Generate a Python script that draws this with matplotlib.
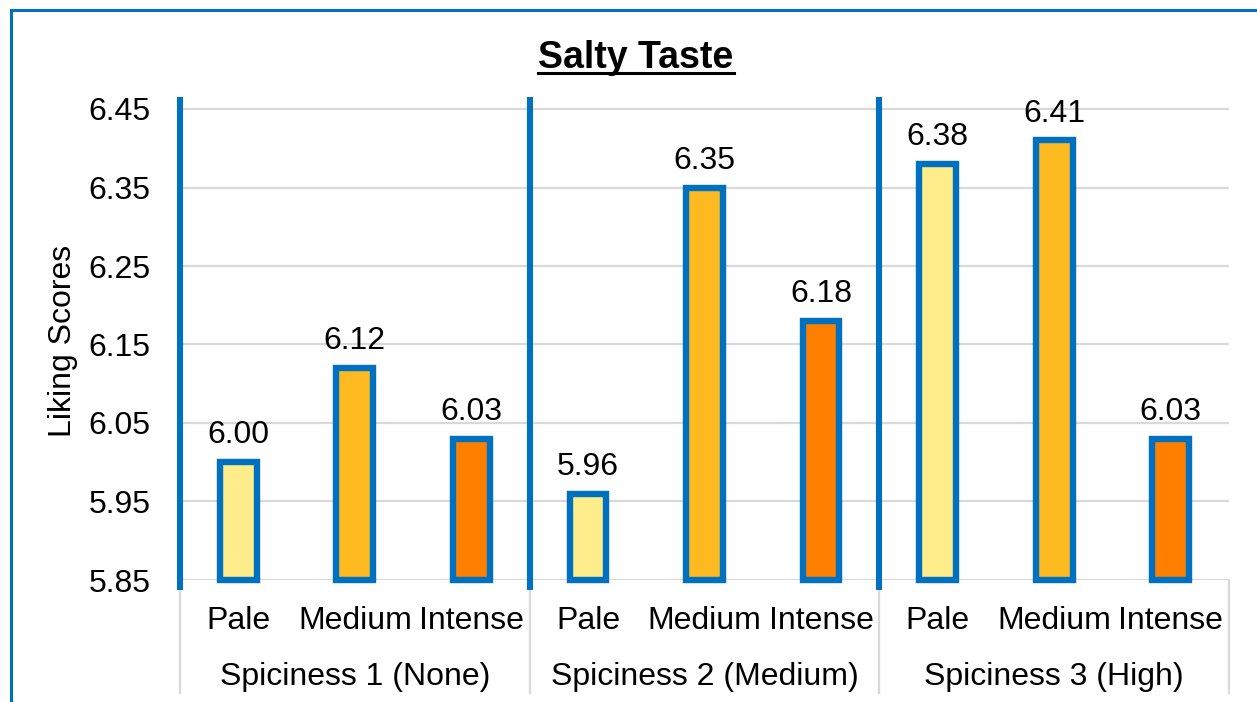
import matplotlib
matplotlib.use("Agg")
import matplotlib.pyplot as plt
from matplotlib.patches import Rectangle
from matplotlib.lines import Line2D
import matplotlib.transforms as mtransforms

plt.rcParams['font.family'] = ['Liberation Sans', 'DejaVu Sans']

# ---- data ----
groups = ["Spiciness 1 (None)", "Spiciness 2 (Medium)", "Spiciness 3 (High)"]
levels = ["Pale", "Medium", "Intense"]
spice1 = [6.00, 6.12, 6.03]
spice2 = [5.96, 6.35, 6.18]
spice3 = [6.38, 6.41, 6.03]
yticks = [5.85, 5.95, 6.05, 6.15, 6.25, 6.35, 6.45]
title = "Salty Taste"
ylabel = "Liking Scores"

level_colors = ["#FFEC8B", "#FDBA21", "#FF8000"]
edge_blue = "#0070C0"
grid_grey = "#D9D9D9"
FS = 23

W, H = 1257, 702
fig = plt.figure(figsize=(W / 100, H / 100), dpi=100)

# axes placed in pixel coordinates
ax_l, ax_r, ax_t, ax_b = 180, 1229, 97, 580
ax = fig.add_axes([ax_l / W, (H - ax_b) / H, (ax_r - ax_l) / W, (ax_b - ax_t) / H])

base = 5.85
all_vals = [spice1, spice2, spice3]
xs, vals, cols = [], [], []
for gi, g in enumerate(all_vals):
    for li, v in enumerate(g):
        xs.append(gi * 3 + li)
        vals.append(v)
        cols.append(level_colors[li])

bars = ax.bar(xs, [v - base for v in vals], bottom=base, width=0.315,
              color=cols, edgecolor=edge_blue, linewidth=4.6, zorder=3)
for b in bars:
    b.set_clip_on(False)

for x, v in zip(xs, vals):
    ax.annotate(f"{v:.2f}", (x, v), xytext=(0, 13.5), textcoords="offset points",
                ha="center", va="baseline", fontsize=FS, color="black", zorder=4)

ax.set_xlim(-0.5, 8.5)
top_val = 6.45 + (109 - 97) / ((580 - 109) / 0.6)
ax.set_ylim(base, top_val)
ax.set_yticks(yticks)
ax.set_yticklabels([f"{t:.2f}" for t in yticks])
ax.tick_params(axis="y", length=0, pad=21, labelsize=FS)
ax.set_xticks([])
for s in ax.spines.values():
    s.set_visible(False)
ax.yaxis.grid(True, color=grid_grey, linewidth=1.6, zorder=0)
ax.set_axisbelow(True)

trans = mtransforms.blended_transform_factory(ax.transData, ax.transAxes)
# blue separators
for xsep in [-0.5, 2.5, 5.5]:
    ax.add_line(Line2D([xsep, xsep], [-10 / 483, 1.0], transform=trans,
                       color=edge_blue, linewidth=4.4, clip_on=False, zorder=5,
                       solid_capstyle="butt"))
# grey lines below axis
for xsep in [-0.5, 2.5, 5.5, 8.5]:
    y0 = -10 / 483 if xsep != 8.5 else 0
    ax.add_line(Line2D([xsep, xsep], [-113 / 483, y0], transform=trans,
                       color=grid_grey, linewidth=1.6, clip_on=False, zorder=1))

# category labels
for x in xs:
    ax.text(x, (580 - 629) / 483, levels[x % 3], transform=trans, ha="center",
            va="baseline", fontsize=FS)
for gi, g in enumerate(groups):
    ax.text(gi * 3 + 1, (580 - 685) / 483, g, transform=trans, ha="center",
            va="baseline", fontsize=FS)

# y label
fig.text(63 / W, 1 - 341 / H, ylabel, rotation=90, ha="center", va="center", fontsize=FS)

# title with underline
t = fig.text(636 / W, 1 - 68 / H, title, ha="center", va="baseline",
             fontsize=27, fontweight="bold")
fig.canvas.draw()
bb = t.get_window_extent(renderer=fig.canvas.get_renderer())
uy = (H - 73) / H
fig.add_artist(Line2D([bb.x0 / W, bb.x1 / W], [uy, uy], transform=fig.transFigure,
                      color="black", linewidth=2.2))

# figure border
fig.add_artist(Rectangle((11 / W, -0.2), 1.5, 1.2 - 10 / H, transform=fig.transFigure,
                         fill=False, edgecolor=edge_blue, linewidth=2.2))

fig.savefig("out.png", dpi=100)
